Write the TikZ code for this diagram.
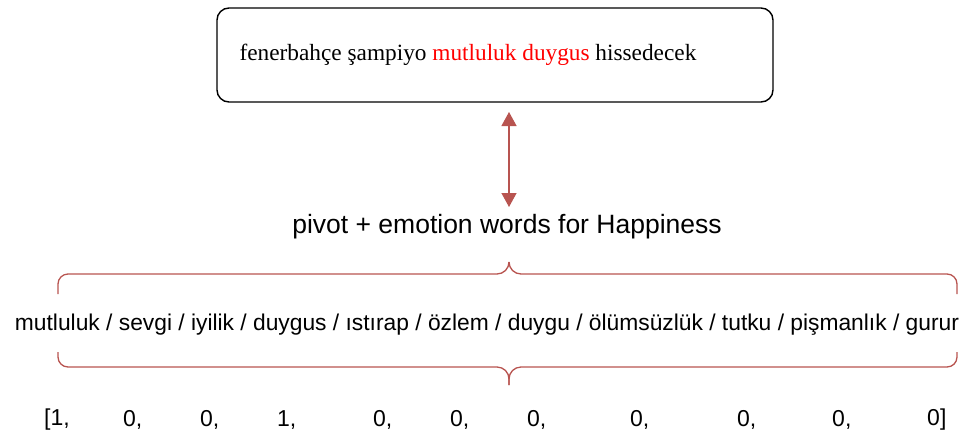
\documentclass[tikz,border=0pt]{standalone}
\usepackage{fontspec}
\setmainfont{Liberation Serif}
\newfontfamily\helv{Liberation Sans}
\usetikzlibrary{arrows.meta}
\definecolor{linkred}{HTML}{B85450}
\definecolor{hred}{HTML}{FF0000}
\tikzset{
  sentbox/.style={draw=black, line width=1.4pt, rounded corners=12pt, minimum width=556pt, minimum height=94pt, inner sep=0pt},
  sanslabel/.style={font=\helv\fontsize{26.5}{30}\selectfont, inner sep=0pt},
  wordlist/.style={font=\helv\fontsize{22.8}{26}\selectfont, inner sep=0pt},
  vecitem/.style={font=\helv\fontsize{23}{26}\selectfont, inner sep=0pt, anchor=west},
  bracepath/.style={draw=linkred, line width=1.3pt},
  link/.style={draw=linkred, line width=1.3pt, {Triangle[length=14pt,width=15pt]}-{Triangle[length=14pt,width=15pt]}}
}
\begin{document}
\begin{tikzpicture}[x=1pt,y=-1pt]
\useasboundingbox (0,0) rectangle (971,437);
\node[sentbox] (sent) at (495,55) {};
\node[inner sep=0pt, font=\fontsize{23.3}{26}\selectfont] (senttext) at (468,55) {fenerbahçe şampiyo \textcolor{hred}{mutluluk duygus} hissedecek};
\node[sanslabel] (pivot) at (507,227) {pivot + emotion words for Happiness};
\coordinate (atop) at (509,112);
\coordinate (abot) at (509,207);
\draw[link] (atop) -- (abot);
% upper brace
\draw[bracepath] (58,294) -- (58,284) arc[start angle=180, end angle=270, radius=10] -- (497,274) arc[start angle=90, end angle=0, radius=12] -- (509,262);
\draw[bracepath] (509,262) -- (509,262) arc[start angle=180, end angle=90, radius=12] -- (947,274) arc[start angle=270, end angle=360, radius=10] -- (957,294);
\node[wordlist] (words) at (487,325) {mutluluk / sevgi / iyilik / duygus / ıstırap / özlem / duygu / ölümsüzlük / tutku / pişmanlık / gurur};
% lower brace
\draw[bracepath] (58,352) -- (58,357) arc[start angle=180, end angle=90, radius=10] -- (497,367) arc[start angle=270, end angle=360, radius=12] -- (509,385);
\draw[bracepath] (509,385) -- (509,379) arc[start angle=180, end angle=270, radius=12] -- (947,367) arc[start angle=90, end angle=0, radius=10] -- (957,352);
% vector
\node[vecitem] (v1) at (44,420) {[1,};
\node[vecitem] (v2) at (123,420) {0,};
\node[vecitem] (v3) at (200,420) {0,};
\node[vecitem] (v4) at (277,420) {1,};
\node[vecitem] (v5) at (373,420) {0,};
\node[vecitem] (v6) at (450,420) {0,};
\node[vecitem] (v7) at (527,420) {0,};
\node[vecitem] (v8) at (630,420) {0,};
\node[vecitem] (v9) at (737,420) {0,};
\node[vecitem] (v10) at (832,420) {0,};
\node[vecitem] (v11) at (927,420) {0]};
\end{tikzpicture}
\end{document}
